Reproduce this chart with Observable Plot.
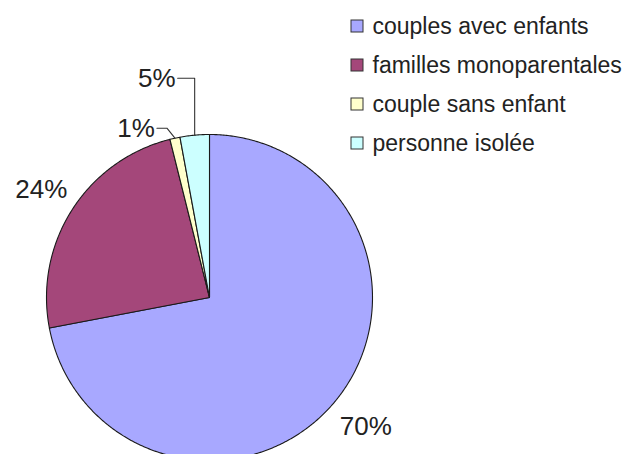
<!DOCTYPE html>
<html>
<head>
<meta charset="utf-8">
<script src="https://cdn.jsdelivr.net/npm/d3@7"></script>
<script src="https://cdn.jsdelivr.net/npm/@observablehq/plot@0.6"></script>
<style>
  body { margin: 0; background: #fff; }
  #chart { width: 630px; height: 454px; overflow: hidden; }
</style>
</head>
<body>
<div id="chart"></div>
<script>
// ---- data ----
const categories = ["couples avec enfants", "familles monoparentales", "couple sans enfant", "personne isolée"];
const shares = [72.0, 24.1, 1.0, 2.9];          // slice sizes as drawn
const labels = ["70%", "24%", "1%", "5%"];       // data labels as printed
const colors = ["#a8a8ff", "#a4477a", "#ffffcc", "#ccffff"];

// ---- layout (pixels) ----
const W = 630, H = 454, CX = 209, CY = 297, R = 163;
const toUx = (px) => (px - CX) / R;
const toUy = (py) => (CY - py) / R;
const PX = R; // pixels per unit

const pie = d3.pie().sort(null).value(d => d)(shares);

// slice polygons
const slicePts = [];
pie.forEach((p, i) => {
  const n = Math.max(2, Math.ceil((p.endAngle - p.startAngle) / (Math.PI / 360)));
  slicePts.push({cat: categories[i], x: 0, y: 0});
  for (let k = 0; k <= n; k++) {
    const a = p.startAngle + (p.endAngle - p.startAngle) * k / n;
    slicePts.push({cat: categories[i], x: Math.sin(a), y: Math.cos(a)});
  }
  slicePts.push({cat: categories[i], x: 0, y: 0});
});

// label placement: outside at radius, or moved with a leader line (pixel offsets)
const placement = [
  {radius: 1.245},
  {radius: 1.225},
  {dx: -20, dy: -10, anchor: "end"},
  {dx: -19, dy: -57, anchor: "end"}
];
const labelPts = [], leaderPts = [];
pie.forEach((p, i) => {
  const a = (p.startAngle + p.endAngle) / 2;
  const pl = placement[i];
  if (pl.radius) {
    labelPts.push({text: labels[i], x: pl.radius * Math.sin(a), y: pl.radius * Math.cos(a), anchor: "middle"});
  } else {
    const ex = Math.sin(a), ey = Math.cos(a);
    const lx = ex + pl.dx / PX, ly = ey - pl.dy / PX;
    labelPts.push({text: labels[i], x: lx, y: ly, anchor: "end"});
    const elbowX = i === 3 ? ex : ex - 8 / PX;
    leaderPts.push({k: i, x: lx + 2 / PX, y: ly});
    leaderPts.push({k: i, x: elbowX, y: ly});
    leaderPts.push({k: i, x: ex, y: ey});
  }
});

// legend
const legend = categories.map((c, i) => ({
  cat: c,
  x1: toUx(351), x2: toUx(363),
  y1: toUy(26 + 39 * i - 6), y2: toUy(26 + 39 * i + 6),
  tx: toUx(372), ty: toUy(26 + 39 * i)
}));

const font = "'Liberation Sans', Arial, sans-serif";

const chart = Plot.plot({
  width: W,
  height: H,
  margin: 0,
  style: {background: "#fff", fontFamily: font, overflow: "hidden"},
  x: {domain: [toUx(0), toUx(W)], axis: null},
  y: {domain: [toUy(H), toUy(0)], axis: null},
  color: {domain: categories, range: colors},
  marks: [
    Plot.line(slicePts, {x: "x", y: "y", z: "cat", fill: "cat", stroke: "#1a1a1a", strokeWidth: 1.1, curve: "linear", strokeLinejoin: "round"}),
    Plot.line(leaderPts, {x: "x", y: "y", z: "k", stroke: "#333", strokeWidth: 1.1, curve: "linear"}),
    Plot.text(labelPts.filter(d => d.anchor === "middle"), {x: "x", y: "y", text: "text", fontSize: 26, fill: "#222", textAnchor: "middle", lineAnchor: "middle"}),
    Plot.text(labelPts.filter(d => d.anchor === "end"), {x: "x", y: "y", text: "text", fontSize: 26, fill: "#222", textAnchor: "end", lineAnchor: "middle"}),
    Plot.rect(legend, {x1: "x1", x2: "x2", y1: "y1", y2: "y2", fill: "cat", stroke: "#333", strokeWidth: 1, inset: 0}),
    Plot.text(legend, {x: "tx", y: "ty", text: "cat", fontSize: 23, fill: "#222", textAnchor: "start", lineAnchor: "middle"})
  ]
});
document.getElementById("chart").appendChild(chart);
</script>
</body>
</html>
